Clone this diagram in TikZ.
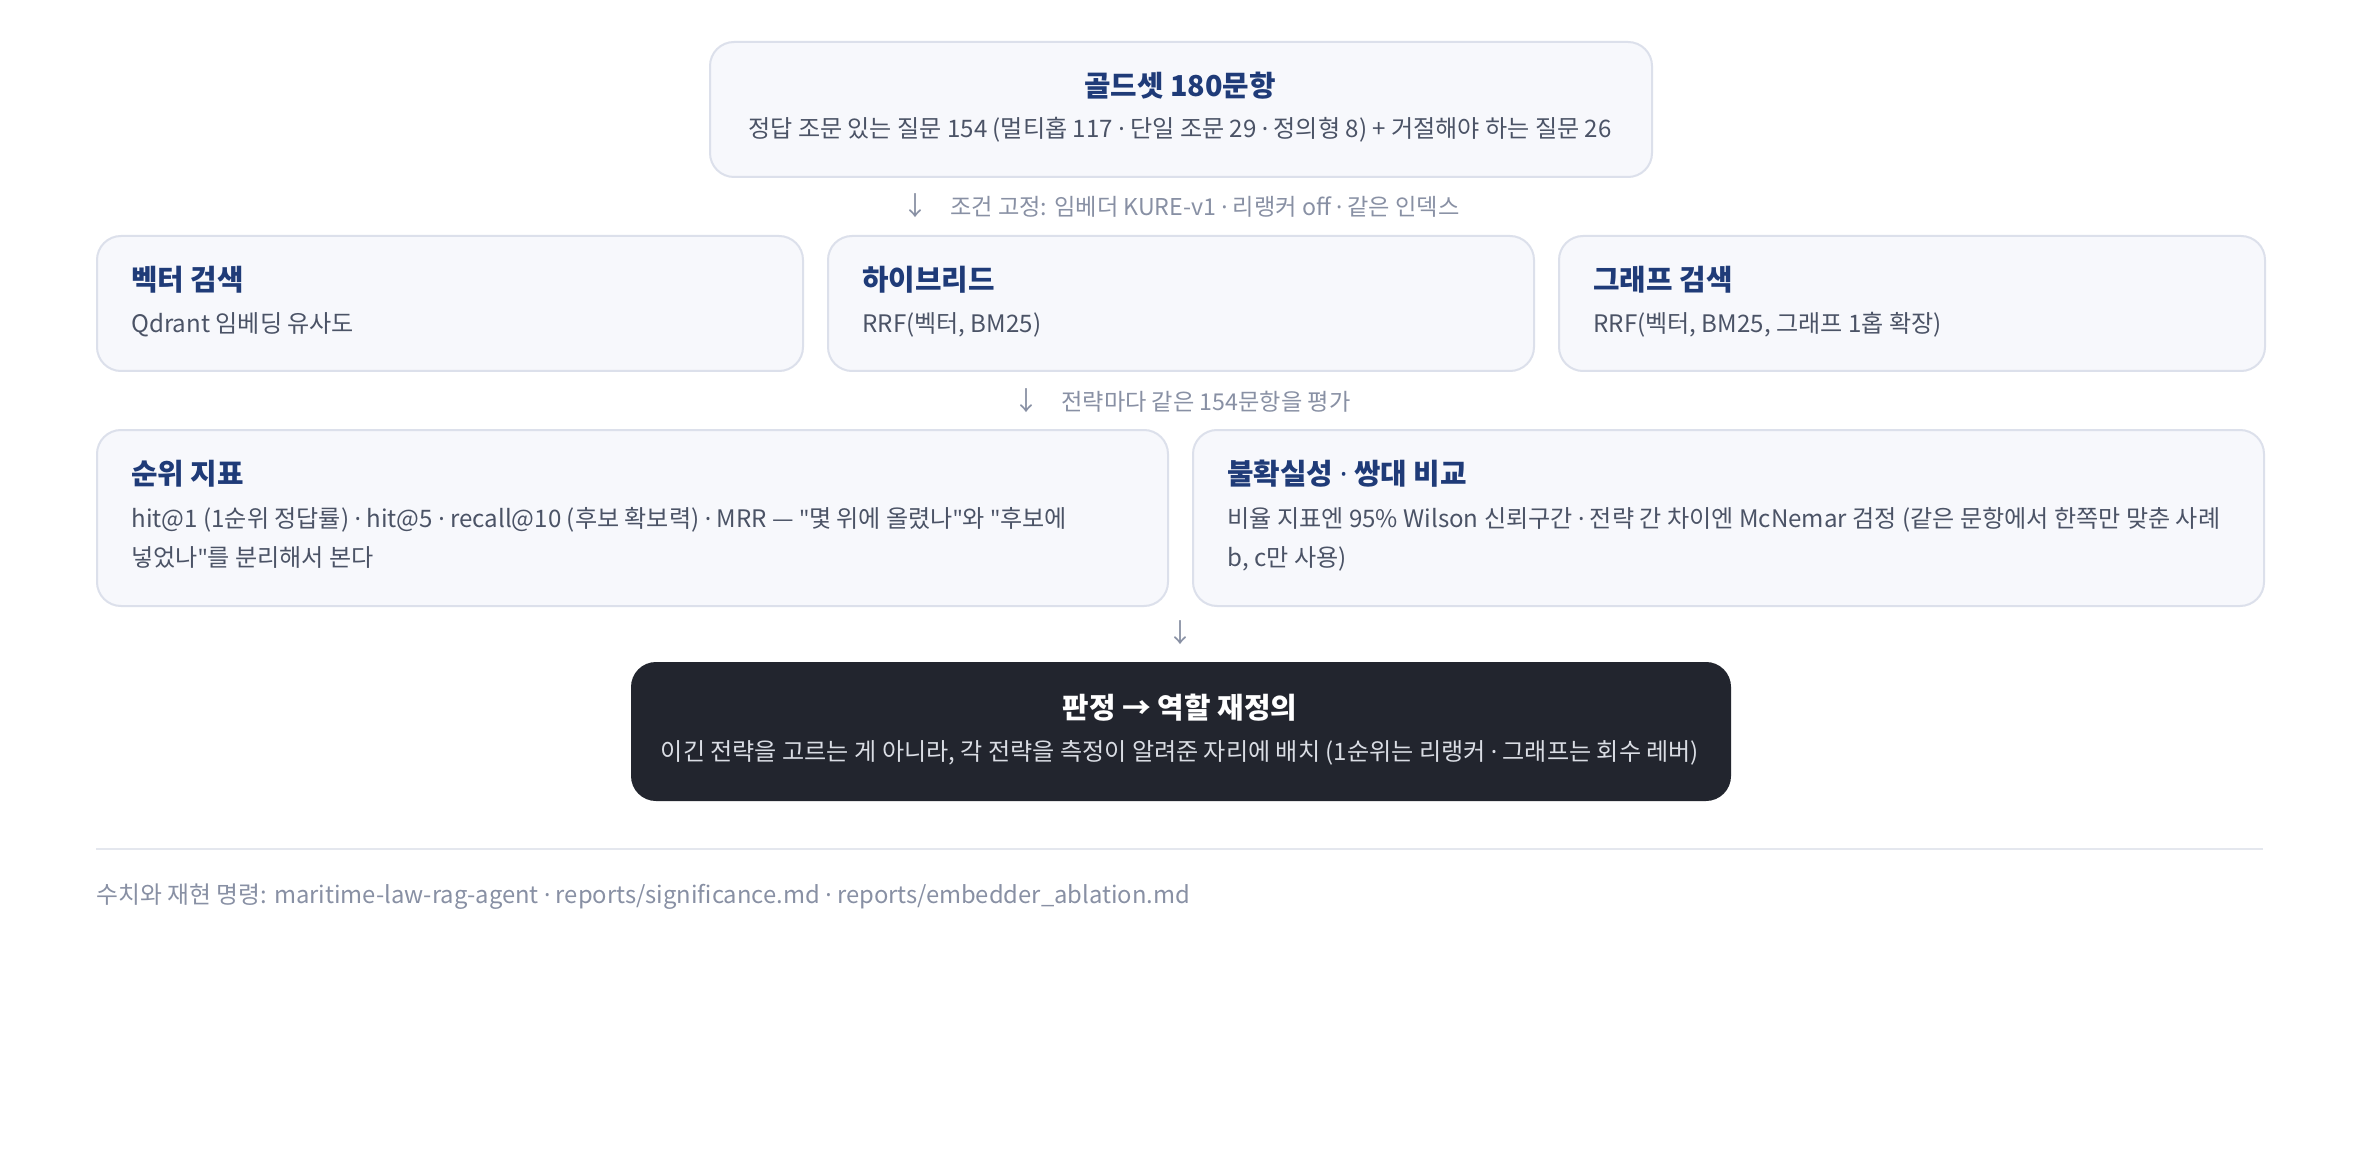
\documentclass[tikz,border=0pt]{standalone}
\usepackage{fontspec}
\setmainfont{Noto Sans CJK KR}
\newfontfamily\latinf{Noto Sans}
\newcommand\mdot{{\latinf ·}}
\newcommand\sq{{\latinf\symbol{34}}}
\definecolor{cardfill}{HTML}{F7F8FC}
\definecolor{cardline}{HTML}{DCE0EB}
\definecolor{titlec}{HTML}{1F3B78}
\definecolor{bodyc}{HTML}{4B5366}
\definecolor{mutedc}{HTML}{8890A4}
\definecolor{darkfill}{HTML}{22252E}
\definecolor{darkbody}{HTML}{DADDE4}
\definecolor{rulec}{HTML}{E4E7EE}
\tikzset{
  card/.style={draw=cardline, fill=cardfill, rounded corners=12pt, line width=1pt, anchor=north west, inner sep=0pt},
  darkcard/.style={draw=darkfill, fill=darkfill, rounded corners=12pt, line width=1pt, anchor=north west, inner sep=0pt},
  ttl/.style={inner sep=0pt, text=titlec, font=\fontsize{14.4}{17}\selectfont\bfseries},
  bdy/.style={inner sep=0pt, text=bodyc, font=\fontsize{12.05}{14}\selectfont},
  lbl/.style={inner sep=0pt, text=mutedc, font=\fontsize{11.6}{13}\selectfont},
  arrowglyph/.style={inner sep=0pt, text=mutedc, font=\fontsize{13}{14}\selectfont},
}
\begin{document}
\begin{tikzpicture}[x=0.5pt,y=-0.5pt]
\path[use as bounding box, fill=white] (0,0) rectangle (2360,1160);

% top card
\node[card, minimum width=471pt, minimum height=67.5pt] (gold) at (709,41) {};
\node[ttl, anchor=base] (goldt) at (1180,97) {골드셋 180문항};
\node[bdy, anchor=base] (golds) at (1180,138) {정답 조문 있는 질문 154 (멀티홉 117 \mdot{} 단일 조문 29 \mdot{} 정의형 8) + 거절해야 하는 질문 26};

% label 1
\node[arrowglyph, anchor=base] (a1) at (915,216) {↓};
\node[lbl, anchor=base west] (l1) at (950,216) {조건 고정: 임베더 KURE-v1 \mdot{} 리랭커 off \mdot{} 같은 인덱스};

% row 2
\node[card, minimum width=353pt, minimum height=67.5pt] (vec) at (96,235) {};
\node[card, minimum width=353pt, minimum height=67.5pt] (hyb) at (827,235) {};
\node[card, minimum width=353pt, minimum height=67.5pt] (gra) at (1558,235) {};
\node[ttl, anchor=base west] (vect) at (131,291) {벡터 검색};
\node[bdy, anchor=base west] (vecs) at (131,333) {Qdrant 임베딩 유사도};
\node[ttl, anchor=base west] (hybt) at (862,291) {하이브리드};
\node[bdy, anchor=base west] (hybs) at (862,333) {RRF(벡터, BM25)};
\node[ttl, anchor=base west] (grat) at (1593,291) {그래프 검색};
\node[bdy, anchor=base west] (gras) at (1593,333) {RRF(벡터, BM25, 그래프 1홉 확장)};

% label 2
\node[arrowglyph, anchor=base] (a2) at (1026,410) {↓};
\node[lbl, anchor=base west] (l2) at (1061,410) {전략마다 같은 154문항을 평가};

% row 3
\node[card, minimum width=535.5pt, minimum height=88pt] (rank) at (96,429) {};
\node[card, minimum width=535.5pt, minimum height=88pt] (unc) at (1192,429) {};
\node[ttl, anchor=base west] (rankt) at (131,484) {순위 지표};
\node[bdy, anchor=base west] (ranka) at (131,527) {hit@1 (1순위 정답률) \mdot{} hit@5 \mdot{} recall@10 (후보 확보력) \mdot{} MRR — \sq{}몇 위에 올렸나\sq{}와 \sq{}후보에};
\node[bdy, anchor=base west] (rankb) at (131,566) {넣었나\sq{}를 분리해서 본다};
\node[ttl, anchor=base west] (unct) at (1227,484) {불확실성 \mdot{} 쌍대 비교};
\node[bdy, anchor=base west] (unca) at (1227,527) {비율 지표엔 95\% Wilson 신뢰구간 \mdot{} 전략 간 차이엔 McNemar 검정 (같은 문항에서 한쪽만 맞춘 사례};
\node[bdy, anchor=base west] (uncb) at (1227,566) {b, c만 사용)};

% arrow 3
\node[arrowglyph, anchor=base] (a3) at (1180,642) {↓};

% dark card
\node[darkcard, minimum width=549pt, minimum height=68.5pt] (verd) at (631,662) {};
\node[ttl, text=white, anchor=base] (verdt) at (1180,718) {판정 → 역할 재정의};
\node[bdy, text=darkbody, anchor=base] (verds) at (1180,760) {이긴 전략을 고르는 게 아니라, 각 전략을 측정이 알려준 자리에 배치 (1순위는 리랭커 \mdot{} 그래프는 회수 레버)};

% rule and footer
\coordinate (rl) at (96,849);
\coordinate (rr) at (2263,849);
\draw[rulec, line width=1pt] (rl) -- (rr);
\node[lbl, font=\fontsize{11.9}{13}\selectfont, anchor=base west] (foot) at (96,903) {수치와 재현 명령: maritime-law-rag-agent \mdot{} reports/significance.md \mdot{} reports/embedder\_ablation.md};
\end{tikzpicture}
\end{document}
